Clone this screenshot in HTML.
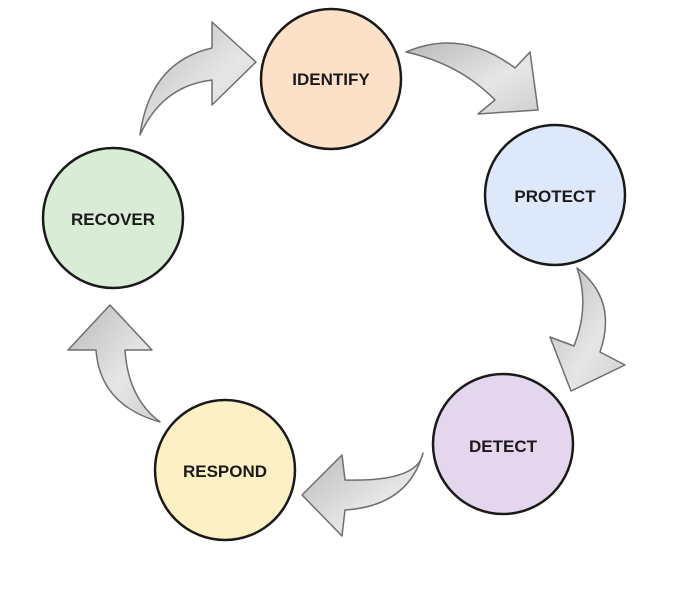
<!DOCTYPE html>
<html><head><style>body{margin:0;background:#fff}svg{display:block}</style></head><body>
<svg width="700" height="610" viewBox="0 0 700 610" xmlns="http://www.w3.org/2000/svg">
<defs>
<linearGradient id="g" x1="0" y1="0" x2="1" y2="1"><stop offset="0" stop-color="#b9b9b9"/><stop offset="0.6" stop-color="#e6e6e6"/><stop offset="1" stop-color="#cfcfcf"/></linearGradient>
</defs>
<g fill="url(#g)" stroke="#6f6f6f" stroke-width="1.5" stroke-linejoin="round">
<path d="M140,135 Q150,62 212,48 L212,22 L256,62 L212,105 L212,80 Q162,86 140,135 Z"/>
<path d="M406,52 Q462,28 515,68 L530,52 L538,110 L478,114 L495,100 Q460,64 406,52 Z"/>
<path d="M577,268 Q618,300 600,352 L625,365 L571,391 L550,337 L574,346 Q590,305 577,268 Z"/>
<path d="M423,453 Q418,482 345,480 L342,455 L302,495 L342,536 L345,510 Q408,506 423,453 Z"/>
<path d="M160,422 Q100,405 96,350 L68,350 L110,305 L152,350 L125,350 Q128,398 160,422 Z"/>
</g>
<g stroke="#1a1a1a" stroke-width="2.5">
<circle cx="331" cy="79" r="70" fill="#fde0c8"/>
<circle cx="555" cy="195" r="70" fill="#dde9fb"/>
<circle cx="503" cy="444" r="70" fill="#e4d6ec"/>
<circle cx="225" cy="470" r="70" fill="#fdf0c4"/>
<circle cx="113" cy="218" r="70" fill="#d9ecd6"/>
</g>
<g font-family="Liberation Sans, sans-serif" font-weight="bold" font-size="17" text-anchor="middle" fill="#1a1a1a">
<text x="331" y="85">IDENTIFY</text>
<text x="555" y="202">PROTECT</text>
<text x="503" y="452">DETECT</text>
<text x="225" y="477">RESPOND</text>
<text x="113" y="225">RECOVER</text>
</g>
</svg>
</body></html>
